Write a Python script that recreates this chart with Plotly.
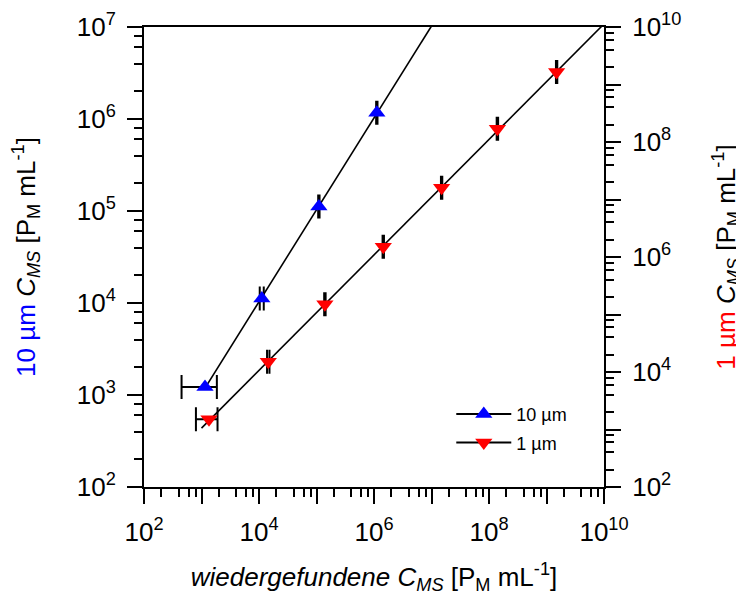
import numpy as np
import plotly.graph_objects as go

# ---- data ----
blue_x = [1.15e3, 1.12e4, 1.1e5, 1.12e6]
blue_y = [1.22e3, 1.12e4, 1.12e5, 1.17e6]
blue_xerr = [700, 900, 3000, 30000]

red_x = [1.35e3, 1.45e4, 1.4e5, 1.45e6, 1.5e7, 1.4e8, 1.5e9]
red_y = [1.5e3, 1.5e4, 1.5e5, 1.5e6, 1.6e7, 1.7e8, 1.65e9]
red_xerr = [550, 700, 4000, 40000, 4e5, 4e6, 4e7]

blue_fit_range = [blue_x[0], 1e8]
red_fit_range = [1e3, 1e10]

blue_name = "10 µm"
red_name = "1 µm"

FONT = "Arial, Liberation Sans, sans-serif"


def fit_line(x, y, xr):
    k, d = np.polyfit(np.log10(x), np.log10(y), 1)
    lx = np.linspace(np.log10(xr[0]), np.log10(xr[1]), 50)
    return 10 ** lx, 10 ** (k * lx + d)


fig = go.Figure()

bx, by = fit_line(blue_x, blue_y, blue_fit_range)
rx, ry = fit_line(red_x, red_y, red_fit_range)

fig.add_trace(go.Scatter(x=bx, y=by, mode="lines", line=dict(color="black", width=1.6),
                         showlegend=False, yaxis="y", hoverinfo="skip"))
fig.add_trace(go.Scatter(x=rx, y=ry, mode="lines", line=dict(color="black", width=1.6),
                         showlegend=False, yaxis="y2", hoverinfo="skip"))

fig.add_trace(go.Scatter(
    x=blue_x, y=blue_y, mode="markers", yaxis="y", showlegend=False,
    marker=dict(symbol="triangle-up", size=15, color="blue"),
    error_x=dict(type="data", array=blue_xerr, color="black", thickness=2, width=12),
))
fig.add_trace(go.Scatter(
    x=red_x, y=red_y, mode="markers", yaxis="y2", showlegend=False,
    marker=dict(symbol="triangle-down", size=15, color="red"),
    error_x=dict(type="data", array=red_xerr, color="black", thickness=2, width=12),
))

# legend entries
fig.add_trace(go.Scatter(x=[None], y=[None], mode="lines+markers", name=blue_name,
                         legendgroup="a",
                         line=dict(color="black", width=2),
                         marker=dict(symbol="triangle-up", size=15, color="blue")))
fig.add_trace(go.Scatter(x=[None], y=[None], mode="lines+markers", name=red_name,
                         legendgroup="b",
                         line=dict(color="black", width=2),
                         marker=dict(symbol="triangle-down", size=15, color="red")))


def decade_ticks(lo, hi, step):
    vals = [10.0 ** n for n in range(lo, hi + 1)]
    text = [f"10<sup>{n}</sup>" if (n - lo) % step == 0 else "" for n in range(lo, hi + 1)]
    return vals, text


def minor_vals(lo, hi):
    out = []
    for n in range(lo, hi):
        for m in (2, 4, 6, 8):
            out.append(m * 10.0 ** n)
    return out


xv, xt = decade_ticks(2, 10, 2)
lv, lt = decade_ticks(2, 7, 1)
rv, rt = decade_ticks(2, 10, 2)

axis_common = dict(
    type="log", showgrid=False, zeroline=False, showline=True, linecolor="black",
    linewidth=2, ticks="outside", ticklen=15, tickwidth=2, tickcolor="black",
    tickfont=dict(family=FONT, size=26, color="black"), tickmode="array",
    automargin=False, ticklabelstandoff=6,
)
TITLE_FONT = dict(family=FONT, size=26, color="black")

# page body has an 8px margin, so the figure is sized to fit the 744x595 window
fig.update_layout(
    width=736, height=587,
    margin=dict(l=136, r=140, t=19, b=108),
    paper_bgcolor="white", plot_bgcolor="white",
    font=dict(family=FONT, color="black"),
    xaxis=dict(
        **axis_common, range=[2, 10], tickvals=xv, ticktext=xt, mirror=True,
        minor=dict(tickmode="array", tickvals=minor_vals(2, 10), ticks="outside",
                   ticklen=8, tickwidth=1.5, tickcolor="black"),
        title=dict(text="<i>wiedergefundene C<sub>MS</sub></i> [P<sub>M</sub> mL<sup>-1</sup>]",
                   font=TITLE_FONT, standoff=28),
    ),
    yaxis=dict(
        **axis_common, range=[2, 7], tickvals=lv, ticktext=lt,
        minor=dict(tickmode="array", tickvals=minor_vals(2, 7), ticks="outside",
                   ticklen=8, tickwidth=1.5, tickcolor="black"),
        title=dict(text="<span style='color:blue'>10 µm</span> <i>C<sub>MS</sub></i> [P<sub>M</sub> mL<sup>-1</sup>]",
                   font=TITLE_FONT, standoff=45),
    ),
    yaxis2=dict(
        **axis_common, range=[2, 10], tickvals=rv, ticktext=rt,
        overlaying="y", side="right",
        minor=dict(tickmode="array", tickvals=minor_vals(2, 10), ticks="outside",
                   ticklen=8, tickwidth=1.5, tickcolor="black"),
        title=dict(text="<span style='color:red'>1 µm</span> <i>C<sub>MS</sub></i> [P<sub>M</sub> mL<sup>-1</sup>]",
                   font=TITLE_FONT, standoff=52),
    ),
    legend=dict(x=0.668, y=0.198, xanchor="left", yanchor="top",
                bgcolor="rgba(0,0,0,0)", font=dict(family=FONT, size=18, color="black"),
                itemwidth=55, traceorder="grouped", tracegroupgap=2),
    showlegend=True,
)

fig.write_html("out.html")
